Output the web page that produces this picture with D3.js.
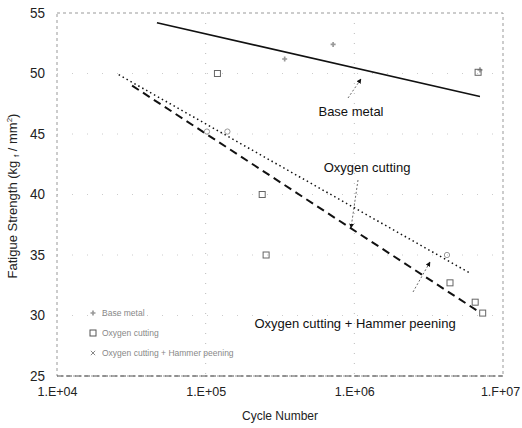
<!DOCTYPE html>
<html>
<head>
<meta charset="utf-8">
<script src="https://cdn.jsdelivr.net/npm/d3@7"></script>
<style>
  body { margin: 0; background: #fff; }
  svg { display: block; }
</style>
</head>
<body>
<script>
// fitted S-N lines (cycles, strength)
var baseLine = [[4.7e4, 54.2], [7.0e6, 48.1]];
var oxyLine = [[2.6e4, 49.9], [6.0e6, 33.5]];
var hammerLine = [[3.2e4, 49.0], [6.9e6, 30.3]];

// test points
var basePts = [[3.4e5, 51.2], [7.2e5, 52.4], [7.0e6, 50.3]];
var oxyPts = [[1.2e5, 50], [2.4e5, 40], [2.55e5, 35], [4.4e6, 32.7], [6.5e6, 31.1], [7.3e6, 30.2], [6.8e6, 50.1]];
var hammerPts = [[1.02e5, 45.2], [1.4e5, 45.2], [4.2e6, 35]];

var xTicks = [1e4, 1e5, 1e6, 1e7];
var xTickLabels = ["1.E+04", "1.E+05", "1.E+06", "1.F+07"];
var yTicks = [25, 30, 35, 40, 45, 50, 55];
var legendNames = ["Base metal", "Oxygen cutting", "Oxygen cutting + Hammer peening"];

var W = 522, H = 428;
var pL = 57, pR = 503, pT = 13, pB = 376;

var x = d3.scaleLog().domain([1e4, 1e7]).range([pL, pR]);
var y = d3.scaleLinear().domain([25, 55]).range([pB, pT]);

var svg = d3.select("body").append("svg")
    .attr("width", W)
    .attr("height", H)
    .style("font-family", "'Liberation Sans', Arial, sans-serif");

// faint grid
svg.append("g").selectAll("line")
    .data(xTicks.slice(1, 3))
    .enter().append("line")
    .attr("x1", d => x(d)).attr("x2", d => x(d))
    .attr("y1", pT).attr("y2", pB)
    .attr("stroke", "#bbb").attr("stroke-width", 1)
    .attr("stroke-dasharray", "1,9");
svg.append("g").selectAll("line")
    .data(yTicks.slice(1, 6))
    .enter().append("line")
    .attr("x1", pL).attr("x2", pR)
    .attr("y1", d => y(d)).attr("y2", d => y(d))
    .attr("stroke", "#ccc").attr("stroke-width", 1)
    .attr("stroke-dasharray", "1,14");

// frame
svg.append("rect")
    .attr("x", pL).attr("y", pT)
    .attr("width", pR - pL).attr("height", pB - pT)
    .attr("fill", "none")
    .attr("stroke", "#999").attr("stroke-width", 1)
    .attr("stroke-dasharray", "3,3");
svg.append("line")
    .attr("x1", pL).attr("x2", pR).attr("y1", pB).attr("y2", pB)
    .attr("stroke", "#555").attr("stroke-dasharray", "6,3");

// axes
var yAxis = d3.axisLeft(y).tickValues(yTicks).tickSize(0).tickPadding(12);
svg.append("g")
    .attr("transform", `translate(${pL},0)`)
    .call(yAxis)
    .call(g => g.select(".domain").remove())
    .selectAll("text")
    .attr("font-size", 14).attr("fill", "#222")
    .attr("textLength", 15).attr("lengthAdjust", "spacingAndGlyphs");

var xAxis = d3.axisBottom(x).tickValues(xTicks)
    .tickFormat((d, i) => xTickLabels[i]).tickSize(0).tickPadding(11);
svg.append("g")
    .attr("transform", `translate(0,${pB})`)
    .call(xAxis)
    .call(g => g.select(".domain").remove())
    .selectAll("text")
    .attr("font-size", 12.5).attr("fill", "#222")
    .attr("dx", (d, i) => i === 3 ? -3 : 0);

// axis titles
svg.append("text")
    .attr("x", 280).attr("y", 420)
    .attr("text-anchor", "middle")
    .attr("font-size", 12).attr("fill", "#222")
    .text("Cycle Number");

var yt = svg.append("text")
    .attr("transform", "translate(17,196) rotate(-90)")
    .attr("text-anchor", "middle")
    .attr("font-size", 13).attr("fill", "#222");
yt.append("tspan").text("Fatigue Strength (kg ");
yt.append("tspan").attr("font-size", 8).attr("dy", 2).text("f");
yt.append("tspan").attr("dy", -2).text(" / mm");
yt.append("tspan").attr("font-size", 8).attr("dy", -5).text("2");
yt.append("tspan").attr("dy", 5).text(")");

// fitted lines
var line = d3.line().x(d => x(d[0])).y(d => y(d[1]));
svg.append("path").datum(baseLine).attr("d", line)
    .attr("fill", "none").attr("stroke", "#111").attr("stroke-width", 1.6);
svg.append("path").datum(oxyLine).attr("d", line)
    .attr("fill", "none").attr("stroke", "#111").attr("stroke-width", 1.5)
    .attr("stroke-dasharray", "1.5,3");
svg.append("path").datum(hammerLine).attr("d", line)
    .attr("fill", "none").attr("stroke", "#111").attr("stroke-width", 2)
    .attr("stroke-dasharray", "8,5");

// points
var symPlus = d3.symbol().type(d3.symbolCross).size(14);
var symX = d3.symbol().type(d3.symbolTimes).size(14);
svg.append("g").selectAll("path")
    .data(basePts).enter().append("path")
    .attr("transform", d => `translate(${x(d[0])},${y(d[1])})`)
    .attr("d", symPlus).attr("fill", "#999");
svg.append("g").selectAll("rect")
    .data(oxyPts).enter().append("rect")
    .attr("x", d => x(d[0]) - 3).attr("y", d => y(d[1]) - 3)
    .attr("width", 6).attr("height", 6)
    .attr("fill", "none").attr("stroke", "#666").attr("stroke-width", 1);
svg.append("g").selectAll("path")
    .data(hammerPts).enter().append("path")
    .attr("transform", d => `translate(${x(d[0])},${y(d[1])})`)
    .attr("d", d3.symbol().type(d3.symbolCircle).size(22))
    .attr("fill", "none").attr("stroke", "#999").attr("stroke-width", 1);

// annotations with arrows
svg.append("defs").append("marker")
    .attr("id", "arr").attr("viewBox", "0 0 10 10")
    .attr("refX", 9).attr("refY", 5)
    .attr("markerWidth", 6).attr("markerHeight", 6)
    .attr("orient", "auto")
    .append("path").attr("d", "M0,0L10,5L0,10Z").attr("fill", "#111");

var notes = [
  {text: legendNames[0], tx: 351, ty: 116, a: [348, 98, 361, 79]},
  {text: legendNames[1], tx: 367, ty: 172, a: [358, 180, 351, 228]},
  {text: legendNames[2], tx: 355, ty: 328, a: [413, 292, 430, 262]}
];
notes.forEach(n => {
  svg.append("text").attr("x", n.tx).attr("y", n.ty)
      .attr("text-anchor", "middle").attr("font-size", 13).attr("fill", "#111")
      .text(n.text);
  svg.append("line")
      .attr("x1", n.a[0]).attr("y1", n.a[1]).attr("x2", n.a[2]).attr("y2", n.a[3])
      .attr("stroke", "#444").attr("stroke-width", 0.8)
      .attr("stroke-dasharray", "2,2")
      .attr("marker-end", "url(#arr)");
});

// legend
var lg = svg.append("g").attr("transform", "translate(93,313)");
legendNames.forEach((name, i) => {
  var row = lg.append("g").attr("transform", `translate(0,${i * 20})`);
  if (i === 0) row.append("path").attr("d", symPlus).attr("fill", "#999");
  else if (i === 1) row.append("rect").attr("x", -3).attr("y", -3).attr("width", 6).attr("height", 6)
      .attr("fill", "none").attr("stroke", "#555");
  else row.append("path").attr("d", symX).attr("fill", "none").attr("stroke", "#888");
  row.append("text").attr("x", 9).attr("y", 3)
      .attr("font-size", 8.5).attr("fill", "#888").text(name);
});
</script>
</body>
</html>
